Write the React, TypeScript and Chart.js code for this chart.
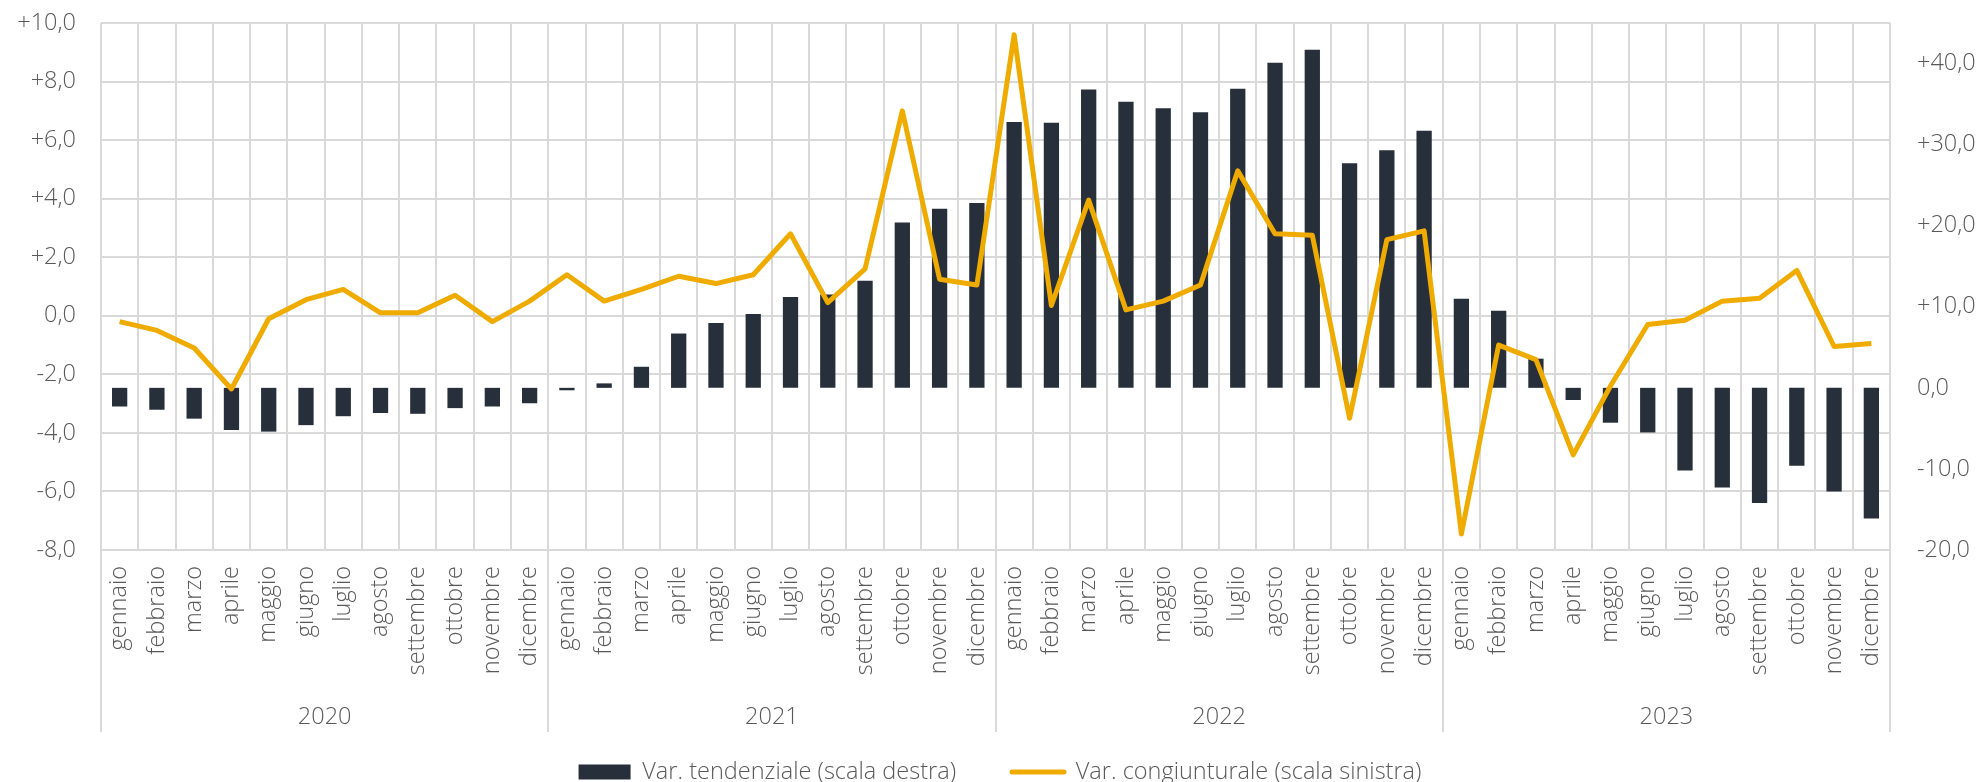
import React, { useEffect, useRef } from 'react';
import { Chart, registerables } from 'chart.js';

Chart.register(...registerables);

const months = ['gennaio', 'febbraio', 'marzo', 'aprile', 'maggio', 'giugno', 'luglio', 'agosto', 'settembre', 'ottobre', 'novembre', 'dicembre'];
const years = ['2020', '2021', '2022', '2023'];
const categories = years.flatMap(() => months);

// Var. tendenziale (scala destra) - bars
const tendenziale = [
  -2.3, -2.7, -3.8, -5.2, -5.4, -4.6, -3.5, -3.1, -3.2, -2.5, -2.3, -1.9,
  -0.3, 0.55, 2.6, 6.7, 8.0, 9.1, 11.2, 11.5, 13.2, 20.4, 22.1, 22.8,
  32.8, 32.7, 36.8, 35.3, 34.5, 34.0, 36.9, 40.1, 41.7, 27.7, 29.3, 31.7,
  11.0, 9.5, 3.6, -1.5, -4.3, -5.5, -10.2, -12.3, -14.2, -9.6, -12.8, -16.1,
];

// Var. congiunturale (scala sinistra) - line
const congiunturale = [
  -0.2, -0.5, -1.1, -2.5, -0.1, 0.55, 0.9, 0.1, 0.1, 0.7, -0.2, 0.5,
  1.4, 0.5, 0.9, 1.35, 1.1, 1.4, 2.8, 0.45, 1.6, 7.0, 1.25, 1.05,
  9.6, 0.35, 3.95, 0.2, 0.5, 1.05, 4.95, 2.8, 2.75, -3.5, 2.6, 2.9,
  -7.45, -1.0, -1.5, -4.75, -2.4, -0.3, -0.15, 0.5, 0.6, 1.55, -1.05, -0.95,
];

const leftTicks = { min: -8, max: 10, step: 2 };
const rightTickValues = [-20, -10, 0, 10, 20, 30, 40];
const rightRange = { min: -20, max: 45 };

const BAR_COLOR = '#262F3A';
const LINE_COLOR = '#F0AB00';
const GRID_COLOR = '#D9D9D9';
const TEXT_COLOR = '#595959';
const FONT = { family: "'Open Sans', sans-serif", size: 23.5, weight: '300' as any };
const LEGEND_PADDING = 56;
const LEGEND_HEIGHT = 42;
const LEGEND_CENTER_Y = 772;
const LEGEND_SHIFT_X = 10;

const fmt = (v: number) => {
  const s = Math.abs(v).toFixed(1).replace('.', ',');
  if (Math.abs(v) < 1e-9) return '0,0';
  return (v > 0 ? '+' : '-') + s;
};

const layoutTweaks = {
  id: 'layoutTweaks',
  beforeLayout(chart: any) {
    const lg = chart.legend;
    if (lg && !lg._fixedFit) {
      const orig = lg.fit.bind(lg);
      lg.fit = function () {
        orig();
        this.height = LEGEND_HEIGHT;
      };
      lg._fixedFit = true;
    }
  },
  afterLayout(chart: any) {
    const lg = chart.legend;
    if (lg) {
      const dy = LEGEND_CENTER_Y - (lg.top + LEGEND_PADDING + FONT.size / 2);
      lg.top += dy;
      lg.bottom = chart.height;
      lg.height = lg.bottom - lg.top;
      lg.left += LEGEND_SHIFT_X;
      lg.right += LEGEND_SHIFT_X;
    }
  },
  afterDraw(chart: any) {
    const { ctx, scales } = chart;
    const xs = scales.x;
    const x2 = scales.x2;
    const n = categories.length;
    const per = months.length;
    const w = xs.width / n;
    ctx.save();
    ctx.strokeStyle = GRID_COLOR;
    ctx.lineWidth = 2;
    for (let i = 0; i <= n; i += per) {
      const x = Math.round(xs.left + i * w);
      ctx.beginPath();
      ctx.moveTo(x, chart.chartArea.bottom);
      ctx.lineTo(x, x2.bottom - 8);
      ctx.stroke();
    }
    ctx.restore();
  },
};

export default function App() {
  const ref = useRef<HTMLCanvasElement>(null);

  useEffect(() => {
    document.body.style.margin = '0';
    Chart.defaults.font.family = FONT.family;
    Chart.defaults.font.size = FONT.size;
    Chart.defaults.color = TEXT_COLOR;

    const chart = new Chart(ref.current as HTMLCanvasElement, {
      type: 'bar',
      data: {
        labels: categories,
        datasets: [
          {
            type: 'bar',
            label: 'Var. tendenziale (scala destra)',
            data: tendenziale,
            backgroundColor: BAR_COLOR,
            borderWidth: 0,
            barPercentage: 0.41,
            categoryPercentage: 1,
            yAxisID: 'y1',
            order: 2,
          } as any,
          {
            type: 'line',
            label: 'Var. congiunturale (scala sinistra)',
            data: congiunturale,
            borderColor: LINE_COLOR,
            backgroundColor: LINE_COLOR,
            borderWidth: 5,
            pointRadius: 0,
            tension: 0,
            borderJoinStyle: 'round',
            borderCapStyle: 'butt',
            yAxisID: 'y',
            order: 1,
          } as any,
        ],
      },
      options: {
        responsive: false,
        animation: false,
        layout: { padding: { top: 23, left: 0, right: 0, bottom: 0 } },
        plugins: {
          tooltip: { enabled: false },
          legend: {
            position: 'bottom',
            labels: {
              usePointStyle: true,
              pointStyleWidth: 52,
              boxHeight: 15,
              padding: LEGEND_PADDING,
              color: TEXT_COLOR,
              font: FONT,
              sort: (a: any, b: any) => a.datasetIndex - b.datasetIndex,
              generateLabels: (c: any) => {
                const items = (Chart.defaults.plugins.legend.labels as any).generateLabels(c);
                items.forEach((it: any) => {
                  if (it.datasetIndex === 0) {
                    it.pointStyle = 'rect';
                    it.fillStyle = BAR_COLOR;
                    it.lineWidth = 0;
                  } else {
                    it.pointStyle = 'line';
                    it.strokeStyle = LINE_COLOR;
                    it.lineWidth = 5;
                    it.lineCap = 'round';
                  }
                });
                return items;
              },
            },
          },
        },
        scales: {
          x: {
            type: 'category',
            position: 'bottom',
            offset: true,
            grid: { offset: true, color: GRID_COLOR, lineWidth: 2, drawTicks: false },
            border: { display: false },
            ticks: { minRotation: 90, maxRotation: 90, autoSkip: false, padding: 16, font: FONT, color: TEXT_COLOR },
            afterFit: (s: any) => { s.height = 140; },
          },
          x2: {
            type: 'category',
            position: 'bottom',
            labels: years,
            offset: true,
            grid: { display: false, drawTicks: false },
            border: { display: false },
            ticks: { padding: 13, font: FONT, color: TEXT_COLOR, maxRotation: 0 },
            afterFit: (s: any) => { s.height = 50; },
          },
          y: {
            type: 'linear',
            position: 'left',
            min: leftTicks.min,
            max: leftTicks.max,
            ticks: { stepSize: leftTicks.step, padding: 25, font: FONT, color: TEXT_COLOR, callback: (v: any) => fmt(Number(v)) },
            grid: { color: GRID_COLOR, lineWidth: 2, drawTicks: false },
            border: { display: false },
            afterFit: (s: any) => { s.width = 101; s.paddingTop = 10; s.paddingBottom = 10; },
          },
          y1: {
            type: 'linear',
            position: 'right',
            min: rightRange.min,
            max: rightRange.max,
            afterBuildTicks: (s: any) => { s.ticks = rightTickValues.map((value) => ({ value })); },
            ticks: { padding: 27, font: FONT, color: TEXT_COLOR, callback: (v: any) => fmt(Number(v)) },
            grid: { drawOnChartArea: false, drawTicks: false, display: false },
            border: { display: false },
            afterFit: (s: any) => { s.width = 90; s.paddingTop = 10; s.paddingBottom = 10; },
          },
        },
      } as any,
      plugins: [layoutTweaks],
    });
    return () => chart.destroy();
  }, []);

  return (
    <div style={{ width: 1980, height: 782 }}>
      <canvas ref={ref} width={1980} height={782} style={{ display: 'block' }} />
    </div>
  );
}
